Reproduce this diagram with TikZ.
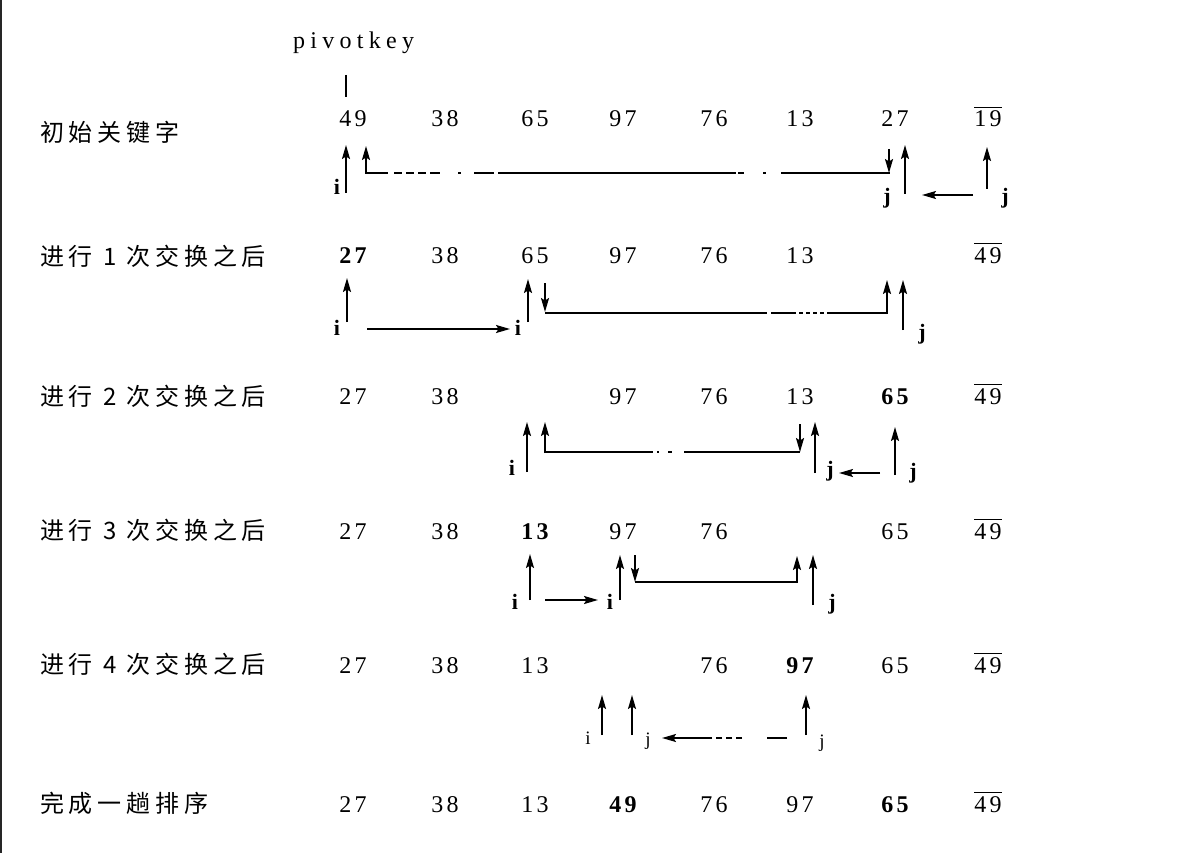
\documentclass[tikz,border=0pt]{standalone}
\usepackage{fontspec}
\setmainfont{Liberation Serif}
\newfontfamily\cjk[LetterSpace=20]{Noto Sans CJK SC}
\newfontfamily\numf[LetterSpace=14]{Liberation Serif}
\newfontfamily\pkf[LetterSpace=22]{Liberation Serif}
\usetikzlibrary{arrows.meta}
\newcommand\ovl[1]{\vbox{\hrule height 1.4pt\kern 3pt\hbox{#1}}}
\begin{document}
\begin{tikzpicture}[x=1pt,y=-1pt,
  num/.style={anchor=base, font=\fontsize{24}{28}\numf, inner sep=0pt},
  bnum/.style={anchor=base, font=\fontsize{24}{28}\numf\bfseries, inner sep=0pt},
  lab/.style={anchor=west, font=\fontsize{24}{28}\cjk, inner sep=0pt},
  ptr/.style={font=\fontsize{22}{26}\selectfont\bfseries, inner sep=0pt},
  ptrr/.style={font=\fontsize{19}{22}\selectfont, inner sep=0pt},
  ar/.style={line width=1.8pt, -{Stealth[length=14pt,width=8pt,inset=2.5pt]}},
  ln/.style={line width=1.5pt},
]
\fill[white] (0,0) rectangle (1185,853);
\useasboundingbox (0,0) rectangle (1185,853);
\fill[black!85] (0,0) rectangle (2,853);

% pivotkey
\node[anchor=base west, font=\fontsize{24}{28}\pkf, inner sep=0pt] (pk) at (293,49) {pivotkey};
\coordinate (tkA) at (346,75);
\coordinate (tkB) at (346,97);
\draw[line width=1.3pt] (tkA) -- (tkB);

% row labels
\node[lab] (l0) at (40,132) {初始关键字};
\node[lab] (l1) at (40,256) {进行 1 次交换之后};
\node[lab] (l2) at (40,396) {进行 2 次交换之后};
\node[lab] (l3) at (40,530) {进行 3 次交换之后};
\node[lab] (l4) at (40,664) {进行 4 次交换之后};
\node[lab] (l5) at (40,803) {完成一趟排序};

% row 0
\node[num] (r0c1) at (353,127) {49};
\node[num] (r0c2) at (445,127) {38};
\node[num] (r0c3) at (535,127) {65};
\node[num] (r0c4) at (623,127) {97};
\node[num] (r0c5) at (714,127) {76};
\node[num] (r0c6) at (800,127) {13};
\node[num] (r0c7) at (895,127) {27};
\node[num] (r0c8) at (988,127) {\ovl{19}};
% row 1
\node[bnum] (r1c1) at (353,263) {27};
\node[num] (r1c2) at (445,263) {38};
\node[num] (r1c3) at (535,263) {65};
\node[num] (r1c4) at (623,263) {97};
\node[num] (r1c5) at (714,263) {76};
\node[num] (r1c6) at (800,263) {13};
\node[num] (r1c8) at (988,263) {\ovl{49}};
% row 2
\node[num] (r2c1) at (353,404) {27};
\node[num] (r2c2) at (445,404) {38};
\node[num] (r2c4) at (623,404) {97};
\node[num] (r2c5) at (714,404) {76};
\node[num] (r2c6) at (800,404) {13};
\node[bnum] (r2c7) at (895,404) {65};
\node[num] (r2c8) at (988,404) {\ovl{49}};
% row 3
\node[num] (r3c1) at (353,539) {27};
\node[num] (r3c2) at (445,539) {38};
\node[bnum] (r3c3) at (535,539) {13};
\node[num] (r3c4) at (623,539) {97};
\node[num] (r3c5) at (714,539) {76};
\node[num] (r3c7) at (895,539) {65};
\node[num] (r3c8) at (988,539) {\ovl{49}};
% row 4
\node[num] (r4c1) at (353,673) {27};
\node[num] (r4c2) at (445,673) {38};
\node[num] (r4c3) at (535,673) {13};
\node[num] (r4c5) at (714,673) {76};
\node[bnum] (r4c6) at (800,673) {97};
\node[num] (r4c7) at (895,673) {65};
\node[num] (r4c8) at (988,673) {\ovl{49}};
% row 5
\node[num] (r5c1) at (353,812) {27};
\node[num] (r5c2) at (445,812) {38};
\node[num] (r5c3) at (535,812) {13};
\node[bnum] (r5c4) at (623,812) {49};
\node[num] (r5c5) at (714,812) {76};
\node[num] (r5c6) at (800,812) {97};
\node[bnum] (r5c7) at (895,812) {65};
\node[num] (r5c8) at (988,812) {\ovl{49}};

% ---------- row 0 pointers
\node[ptr] (i0a) at (337,187) {i};
\node[ptr] (j0a) at (887,198) {j};
\node[ptr] (j0b) at (1005,198) {j};
\draw[ar] (346,193) -- (346,145);
\draw[ln, dash pattern=on 22pt off 6pt on 8pt off 4pt on 8pt off 4pt on 8pt off 4pt on 10pt off 18pt on 3pt off 13pt on 20pt off 4pt on 238pt off 2pt on 6pt off 19pt on 3pt off 15pt on 200pt] (366,173) -- (890,173);
\draw[ar] (366,174) -- (366,146);
\draw[ar] (889,149) -- (889,173);
\draw[ar] (905,194) -- (905,145);
\draw[ar] (973,195) -- (922,195);
\draw[ar] (987,189) -- (987,147);

% ---------- row 1 pointers
\node[ptr] (i1a) at (337,328) {i};
\node[ptr] (i1b) at (518,328) {i};
\node[ptr] (j1a) at (922,334) {j};
\draw[ar] (347,322) -- (347,278);
\draw[ar] (367,329) -- (510,329);
\draw[ar] (528,322) -- (528,279);
\draw[ar] (545,283) -- (545,312);
\draw[ln, dash pattern=on 222pt off 4pt on 25pt off 3pt on 4pt off 3pt on 4pt off 3pt on 4pt off 3pt on 4pt off 3pt on 100pt] (545,313) -- (887,313);
\draw[ar] (887,314) -- (887,280);
\draw[ar] (903,330) -- (903,280);

% ---------- row 2 pointers
\node[ptr] (i2a) at (512,468) {i};
\node[ptr] (j2a) at (830,471) {j};
\node[ptr] (j2b) at (913,473) {j};
\draw[ar] (527,472) -- (527,422);
\draw[ln, dash pattern=on 108pt off 4pt on 2pt off 9pt on 4pt off 12pt on 200pt] (545,452) -- (800,452);
\draw[ar] (545,453) -- (545,422);
\draw[ar] (800,424) -- (800,452);
\draw[ar] (815,473) -- (815,422);
\draw[ar] (880,473) -- (839,473);
\draw[ar] (895,475) -- (895,427);

% ---------- row 3 pointers
\node[ptr] (i3a) at (515,602) {i};
\node[ptr] (i3b) at (610,602) {i};
\node[ptr] (j3a) at (832,604) {j};
\draw[ar] (530,600) -- (530,554);
\draw[ar] (545,600) -- (598,600);
\draw[ar] (620,600) -- (620,555);
\draw[ar] (635,555) -- (635,582);
\draw[ln] (635,582) -- (797,582);
\draw[ar] (797,583) -- (797,556);
\draw[ar] (813,605) -- (813,555);

% ---------- row 4 pointers
\node[ptrr] (i4a) at (588,738) {i};
\node[ptrr] (j4a) at (648,741) {j};
\node[ptrr] (j4b) at (822,743) {j};
\draw[ar] (602,735) -- (602,695);
\draw[ar] (632,735) -- (632,695);
\draw[ln, dash pattern=on 20pt off 25pt on 6pt off 4pt on 6pt off 4pt on 6pt off 4pt on 100pt] (787,738) -- (675,738);
\draw[ar] (680,738) -- (662,738);
\draw[ar] (806,735) -- (806,695);
\end{tikzpicture}
\end{document}
